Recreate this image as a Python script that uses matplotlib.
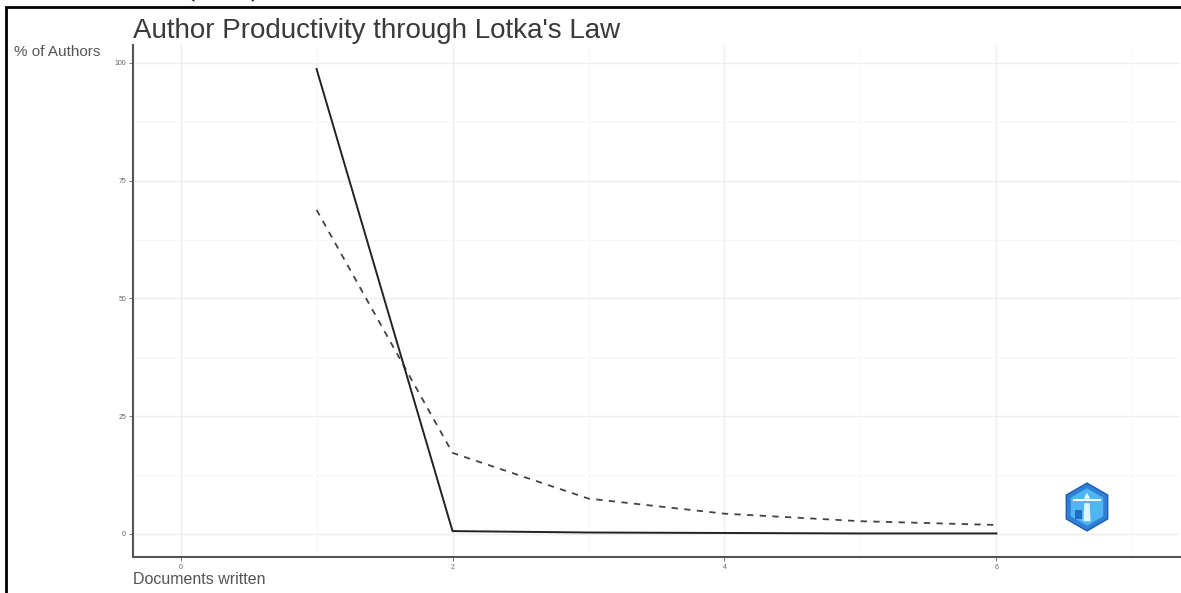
import matplotlib
matplotlib.use("Agg")
import matplotlib.pyplot as plt
from matplotlib.patches import Rectangle, RegularPolygon, Polygon
from matplotlib.ticker import MultipleLocator

# Lotka's law: share of authors by number of documents written
docs_written = [1, 2, 3, 4, 5, 6]
observed_pct = [98.7, 0.6, 0.3, 0.2, 0.1, 0.1]
theoretical_pct = [68.8, 17.2, 7.5, 4.3, 2.7, 1.9]

x_ticks = [0, 2, 4, 6]
y_ticks = [0, 25, 50, 75, 100]

title = "Author Productivity through Lotka's Law"
x_label = "Documents written"
y_label = "% of Authors"
source_note = "Source: Authors (2024)."

plt.rcParams["font.family"] = ["Liberation Sans", "DejaVu Sans"]

W, H = 1181, 593
fig = plt.figure(figsize=(W / 100, H / 100), dpi=100)
fig.patch.set_facecolor("white")

# outer frame
fig.patches.append(Rectangle((6 / W, -0.05), 1.2, 1 - 7 / H + 0.05,
                             transform=fig.transFigure, fill=False,
                             edgecolor="black", linewidth=2, zorder=5))
fig.text(0.0, 1 + 3.5 / H, source_note, family="Liberation Serif",
         fontsize=20, va="baseline", ha="left", color="black")

ax = fig.add_axes([133 / W, 1 - 557 / H, (1180 - 133) / W, (557 - 45) / H])
ax.set_xlim(-0.35, 7.35)
ax.set_ylim(-4.9, 103.8)

ax.plot(docs_written, theoretical_pct, color="#444444", lw=1.3,
        linestyle=(0, (3.5, 3.5)), zorder=3)
ax.plot(docs_written, observed_pct, color="#222222", lw=1.4, zorder=3)

ax.set_xticks(x_ticks)
ax.set_yticks(y_ticks)
ax.xaxis.set_minor_locator(MultipleLocator(1))
ax.yaxis.set_minor_locator(MultipleLocator(12.5))
ax.grid(which="major", color="#eeeeee", linewidth=1.0)
ax.grid(which="minor", color="#f5f5f5", linewidth=0.6)
ax.set_axisbelow(True)

for s in ["top", "right"]:
    ax.spines[s].set_visible(False)
for s in ["left", "bottom"]:
    ax.spines[s].set_color("#555555")
    ax.spines[s].set_linewidth(1.5)

ax.tick_params(which="major", length=3, width=0.6, color="#666666",
               labelsize=5, labelcolor="#666666", pad=2)
ax.tick_params(which="minor", length=0)

ax.set_title(title, loc="left", fontsize=20, color="#3a3a3a", x=0.0,
             y=1.0, pad=5)
fig.text(14 / W, 1 - 52 / H, y_label, fontsize=11, color="#555555",
         va="center", ha="left")
fig.text(133 / W, 1 - 580 / H, x_label, fontsize=11.5, color="#555555",
         va="center", ha="left")

# logo badge
lax = fig.add_axes([(1087 - 26) / W, 1 - (507 + 26) / H, 52 / W, 52 / H])
lax.set_xlim(-1, 1)
lax.set_ylim(-1, 1)
lax.set_aspect("equal")
lax.axis("off")
lax.add_patch(RegularPolygon((0, 0), 6, radius=0.92, orientation=0,
                             facecolor="#2f7fd8", edgecolor="#1d5fae", lw=1))
lax.add_patch(RegularPolygon((0, 0), 6, radius=0.72, orientation=0,
                             facecolor="#4fb6f2", edgecolor="none"))
lax.add_patch(Polygon([[-0.55, 0.22], [0.55, 0.22], [0.55, 0.32], [-0.55, 0.32]],
                      facecolor="white", edgecolor="none"))
lax.add_patch(Polygon([[-0.12, 0.32], [0.0, 0.55], [0.12, 0.32]],
                      facecolor="white", edgecolor="none"))
lax.add_patch(Polygon([[-0.1, 0.15], [0.1, 0.15], [0.14, -0.55], [-0.14, -0.55]],
                      facecolor="#dff3ff", edgecolor="none"))
lax.add_patch(Polygon([[-0.45, -0.1], [-0.2, -0.1], [-0.2, -0.45], [-0.45, -0.45]],
                      facecolor="#1f6cc4", edgecolor="none"))

fig.savefig("out.png", dpi=100, facecolor="white")
